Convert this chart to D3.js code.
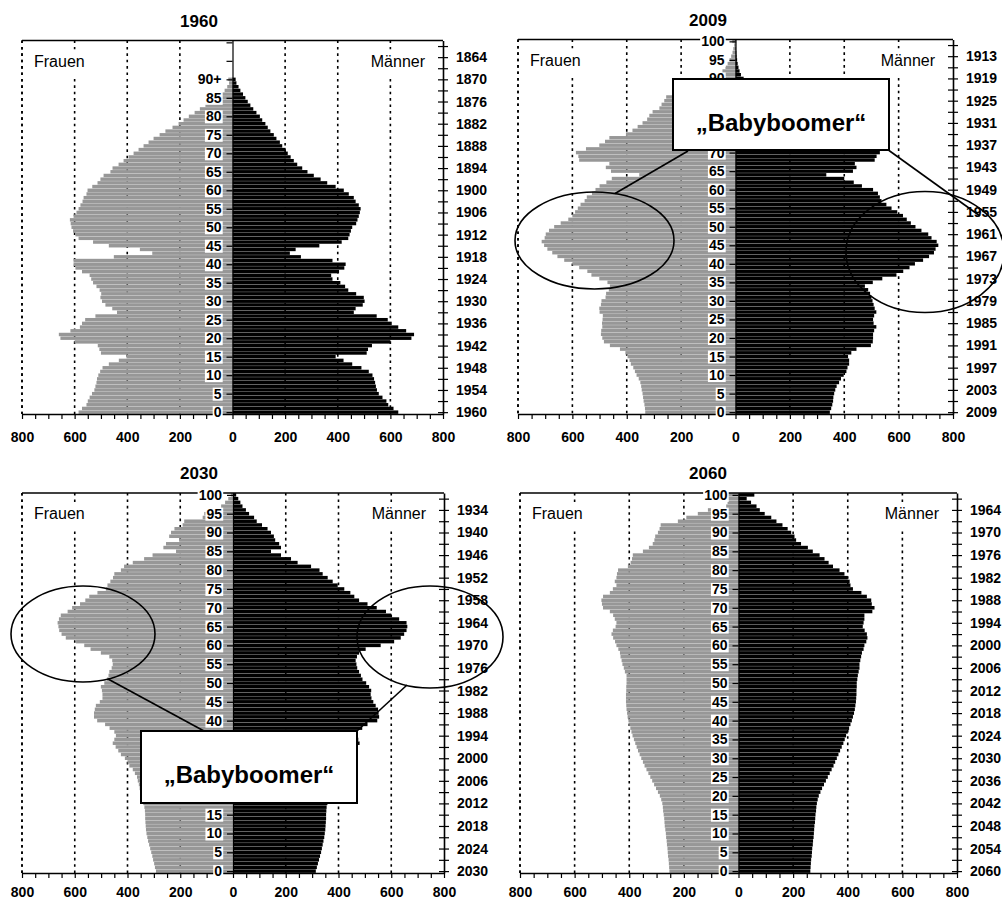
<!DOCTYPE html>
<html>
<head>
<meta charset="utf-8">
<script src="https://cdn.jsdelivr.net/npm/d3@7"></script>
<style>
  body { margin: 0; background: #fff; }
  svg { display: block; }
</style>
</head>
<body>
<svg id="chart" width="1002" height="901"></svg>
<script>
(function() {
  'use strict';

  // ---- data (thousands per single year of age, 0..100) ----
  var ages = d3.range(0, 101);
  var panelYears = [1960, 2009, 2030, 2060];
  var gridValues = [-800, -600, -400, -200, 200, 400, 600];
  var ageTicks = d3.range(0, 101, 5);
  var yearTickAges = d3.range(0, 100, 3);

  var female1960 = [
    585,572,555,550,543,534,525,521,517,515,
    510,503,494,470,432,403,500,506,512,600,
    654,660,616,580,572,560,521,439,457,483,
    496,502,499,505,517,530,537,543,572,597,
    604,604,451,305,352,470,530,585,597,606,
    612,615,618,604,593,585,578,570,566,555,
    551,533,513,502,490,464,456,433,414,395,
    376,357,338,319,300,277,255,228,205,186,
    166,144,124,103,81,58,42,30,20,13,
    16,0,0,0,0,0,0,0,0,0,
    0];
  var male1960 = [
    630,612,592,585,570,556,549,545,542,538,
    532,518,490,455,422,392,510,515,530,600,
    680,690,660,630,605,590,548,461,468,495,
    502,499,470,440,428,410,380,375,405,425,
    430,380,260,218,240,330,415,440,445,450,
    455,470,475,480,484,487,480,468,461,442,
    423,392,360,335,309,285,265,246,233,221,
    210,202,189,180,167,157,144,134,125,113,
    104,91,79,68,58,49,40,30,23,15,
    12,0,0,0,0,0,0,0,0,0,
    0];
  var female2009 = [
    332,333,335,338,340,342,345,347,350,356,
    364,370,376,385,390,397,405,425,462,484,
    490,495,494,490,491,489,488,500,501,495,
    493,478,476,466,462,471,501,530,545,575,
    600,630,655,674,692,704,713,702,698,686,
    667,643,615,600,590,580,570,555,547,528,
    515,500,475,455,354,458,477,464,575,578,
    587,550,501,480,464,403,379,360,342,325,
    317,305,280,272,262,255,231,212,185,150,
    100,62,48,37,29,22,16,11,8,5,
    12];
  var male2009 = [
    347,352,356,359,360,363,367,372,381,388,
    398,408,412,418,418,414,426,445,498,505,
    506,506,510,518,508,506,510,518,512,508,
    504,500,495,488,476,505,540,592,617,640,
    660,690,712,730,736,746,740,721,709,684,
    662,645,630,616,595,574,555,537,531,524,
    506,465,435,400,334,432,445,439,512,519,
    531,515,470,430,410,370,340,310,280,255,
    220,190,170,150,130,110,95,80,62,45,
    30,20,15,11,8,6,4,3,2,1,
    2];
  var female2030 = [
    292,296,299,303,306,310,314,318,322,325,
    328,330,331,332,333,333,334,336,340,343,
    347,350,354,357,361,364,372,380,393,400,
    410,425,435,445,456,450,444,450,468,485,
    515,527,527,524,520,505,495,495,497,501,
    488,478,472,469,460,456,458,469,501,540,
    564,595,634,650,659,662,665,660,653,627,
    610,580,560,545,514,482,476,465,455,450,
    425,413,380,337,305,216,264,254,204,242,
    235,222,191,185,115,109,60,45,30,18,
    8];
  var male2030 = [
    314,318,322,326,330,334,337,340,343,346,
    348,350,351,352,353,353,354,355,358,362,
    366,370,374,378,382,386,392,400,410,420,
    432,445,458,470,480,475,468,472,490,510,
    547,554,552,550,541,532,525,522,524,516,
    505,491,485,478,471,468,465,470,478,503,
    560,611,636,649,658,661,658,630,600,580,
    545,510,478,460,445,422,397,378,359,340,
    328,296,245,220,182,144,182,175,160,155,
    144,131,110,90,80,61,49,36,28,20,
    12];
  var female2060 = [
    253,254,255,256,258,259,260,262,263,265,
    266,268,270,271,272,274,276,277,279,283,
    288,295,302,309,316,323,330,337,344,350,
    356,362,368,373,378,383,388,392,396,400,
    403,406,408,410,411,412,412,412,411,411,
    410,410,410,416,420,425,428,432,434,440,
    447,452,459,465,460,450,447,453,459,471,
    496,500,502,496,471,460,447,453,447,445,
    441,405,395,390,387,350,328,314,308,305,
    295,289,285,222,191,149,112,45,40,38,
    43];
  var male2060 = [
    263,264,265,266,268,269,270,272,273,275,
    276,277,278,280,281,282,284,285,287,290,
    294,300,306,313,320,327,334,341,348,354,
    360,366,372,378,384,389,394,400,405,410,
    415,419,423,426,428,430,431,432,432,433,
    433,435,437,440,443,443,446,449,452,458,
    461,468,472,470,462,455,458,461,461,490,
    498,488,486,470,450,419,410,407,400,388,
    370,346,330,315,297,272,254,229,211,205,
    193,180,161,139,120,96,78,66,46,30,
    58];

  var femaleSeries = [female1960, female2009, female2030, female2060];
  var maleSeries = [male1960, male2009, male2030, male2060];

  // ---- layout ----
  var layout = [
    {left: 22,  right: 443, top: 40.5, bottom: 414, titleX: 199, labelPad: 13},
    {left: 518, right: 953, top: 39.5, bottom: 414, titleX: 708, labelPad: 13},
    {left: 22,  right: 444, top: 493,  bottom: 873, titleX: 199, labelPad: 9},
    {left: 520, right: 957, top: 493,  bottom: 873, titleX: 708, labelPad: 9}
  ];

  // annotations in pixel space (decoration)
  var annotations = [
    {ellipses: [{cx: 594.5, cy: 240.5, rx: 79.5, ry: 48.5}, {cx: 925, cy: 252, rx: 79, ry: 60.5}],
     lines: [[688, 151, 615, 193.5], [889, 150.5, 980, 216]],
     box: {x: 673, y: 79, w: 216, h: 71}},
    {ellipses: [{cx: 83, cy: 634, rx: 72, ry: 48}, {cx: 430, cy: 637, rx: 73, ry: 51}],
     lines: [[108, 679, 204, 731], [407, 685, 357, 731]],
     box: {x: 141, y: 731, w: 216, h: 72}}
  ];

  var FONT = "'Liberation Sans', Arial, Helvetica, sans-serif";
  var FEMALE = "#979797", MALE = "#000000";

  var svg = d3.select("#chart");

  panelYears.forEach(function(year, i) {
    var p = layout[i];
    var fem = femaleSeries[i], mal = maleSeries[i];

    var x = d3.scaleLinear().domain([-800, 800]).range([p.left, p.right]);
    var y = d3.scaleBand().domain(ages).range([p.bottom, p.top]);
    var yMid = d3.scaleLinear().domain([-0.5, 100.5]).range([p.bottom, p.top]);
    var x0 = x(0);
    var bw = y.bandwidth();

    var g = svg.append("g").attr("class", "panel");

    // dotted grid (behind the bars)
    g.selectAll("line.grid").data(gridValues).enter().append("line")
      .attr("class", "grid")
      .attr("x1", function(d) { return x(d); })
      .attr("x2", function(d) { return x(d); })
      .attr("y1", p.top).attr("y2", p.bottom)
      .attr("stroke", "#000").attr("stroke-width", 1.6)
      .attr("stroke-dasharray", "2.6,3.8");

    // bars (thin light seam between the years)
    g.selectAll("rect.f").data(ages).enter().append("rect")
      .attr("class", "f")
      .attr("x", function(a) { return x(-fem[a]); })
      .attr("y", function(a) { return y(a) + 0.13; })
      .attr("width", function(a) { return x0 - x(-fem[a]); })
      .attr("height", bw - 0.26)
      .attr("fill", FEMALE);

    g.selectAll("rect.m").data(ages).enter().append("rect")
      .attr("class", "m")
      .attr("x", x0)
      .attr("y", function(a) { return y(a) + 0.13; })
      .attr("width", function(a) { return x(mal[a]) - x0; })
      .attr("height", bw - 0.26)
      .attr("fill", MALE);

    // top border
    g.append("line")
      .attr("x1", p.left).attr("x2", p.right)
      .attr("y1", p.top).attr("y2", p.top)
      .attr("stroke", "#000").attr("stroke-width", 1.5);

    // Frauen / Männer
    [["Frauen", p.left + 12, "start"], ["Männer", p.right - 18, "end"]].forEach(function(l) {
      var lg = g.append("g");
      var t = lg.append("text")
        .attr("x", l[1]).attr("y", p.top + 26)
        .attr("text-anchor", l[2])
        .attr("font-family", FONT).attr("font-size", 16)
        .attr("fill", "#000")
        .text(l[0]);
      var bb = t.node().getBBox();
      lg.insert("rect", "text")
        .attr("x", bb.x - 4).attr("y", p.top + 9)
        .attr("width", bb.width + 8).attr("height", 28)
        .attr("fill", "#fff");
    });

    // bottom value axis
    var xAxis = d3.axisBottom(x)
      .tickValues(d3.range(-800, 801, 50))
      .tickSize(5).tickSizeOuter(0).tickPadding(p.labelPad)
      .tickFormat(function(d) { return d % 200 === 0 ? Math.abs(d) : ""; });
    var xg = g.append("g")
      .attr("transform", "translate(0," + p.bottom + ")")
      .call(xAxis);
    xg.select(".domain").attr("stroke-width", 1.6);
    xg.selectAll(".tick line").attr("stroke-width", 1.2);
    xg.selectAll("text")
      .attr("font-family", FONT).attr("font-size", 14)
      .attr("font-weight", "bold").attr("fill", "#000");

    // left frame: dotted like the grid
    g.append("line")
      .attr("x1", p.left).attr("x2", p.left)
      .attr("y1", p.top).attr("y2", p.bottom)
      .attr("stroke", "#000").attr("stroke-width", 1.6)
      .attr("stroke-dasharray", "2.6,3.8");

    // right axis: year of birth
    var rAxis = d3.axisRight(yMid)
      .tickValues(yearTickAges)
      .tickSize(5).tickSizeOuter(0).tickPadding(8)
      .tickFormat(function(a) { return a % 6 === 0 ? (year - a) : ""; });
    var rg = g.append("g")
      .attr("transform", "translate(" + p.right + ",0)")
      .call(rAxis);
    rg.select(".domain").attr("stroke-width", 1.6);
    rg.selectAll(".tick line").attr("x1", -5).attr("x2", 5).attr("stroke-width", 1.2);
    rg.selectAll("text")
      .attr("font-family", FONT).attr("font-size", 14)
      .attr("font-weight", "bold").attr("fill", "#000");

    // centre axis: age
    var cAxis = d3.axisLeft(yMid)
      .tickValues(ageTicks)
      .tickSize(6).tickSizeOuter(0).tickPadding(5)
      .tickFormat(function(a) {
        if (year === 1960) { return a === 90 ? "90+" : (a > 90 ? "" : a); }
        return a;
      });
    var cg = g.append("g")
      .attr("transform", "translate(" + x0 + ",0)")
      .call(cAxis);
    cg.select(".domain").attr("stroke-width", 1.2);
    cg.selectAll(".tick line").attr("stroke-width", 1.2);
    cg.selectAll("text")
      .attr("font-family", FONT).attr("font-size", 14)
      .attr("font-weight", "bold").attr("fill", "#000");
    cg.selectAll(".tick").each(function() {
      var tick = d3.select(this);
      var t = tick.select("text");
      if (!t.text()) { return; }
      var bb = t.node().getBBox();
      tick.insert("rect", "text")
        .attr("x", bb.x - 1).attr("y", -6.5)
        .attr("width", bb.width + 2).attr("height", 13)
        .attr("fill", "#fff");
    });

    // title
    g.append("text")
      .attr("x", p.titleX).attr("y", p.top - 14)
      .attr("text-anchor", "middle")
      .attr("font-family", FONT).attr("font-size", 17)
      .attr("font-weight", "bold").attr("fill", "#000")
      .text(year);
  });

  // "Babyboomer" annotations
  annotations.forEach(function(an) {
    var ag = svg.append("g").attr("class", "annotation");
    ag.selectAll("ellipse").data(an.ellipses).enter().append("ellipse")
      .attr("cx", function(d) { return d.cx; })
      .attr("cy", function(d) { return d.cy; })
      .attr("rx", function(d) { return d.rx; })
      .attr("ry", function(d) { return d.ry; })
      .attr("fill", "none").attr("stroke", "#000").attr("stroke-width", 1.6);
    ag.selectAll("line").data(an.lines).enter().append("line")
      .attr("x1", function(d) { return d[0]; })
      .attr("y1", function(d) { return d[1]; })
      .attr("x2", function(d) { return d[2]; })
      .attr("y2", function(d) { return d[3]; })
      .attr("stroke", "#000").attr("stroke-width", 1.6);
    ag.append("rect")
      .attr("x", an.box.x).attr("y", an.box.y)
      .attr("width", an.box.w).attr("height", an.box.h)
      .attr("fill", "#fff").attr("stroke", "#000").attr("stroke-width", 2);
    ag.append("text")
      .attr("x", an.box.x + an.box.w / 2)
      .attr("y", an.box.y + 52)
      .attr("text-anchor", "middle")
      .attr("font-family", FONT).attr("font-size", 24)
      .attr("font-weight", "bold").attr("fill", "#000")
      .text("\u201EBabyboomer\u201C");
  });
}());
</script>
</body>
</html>
